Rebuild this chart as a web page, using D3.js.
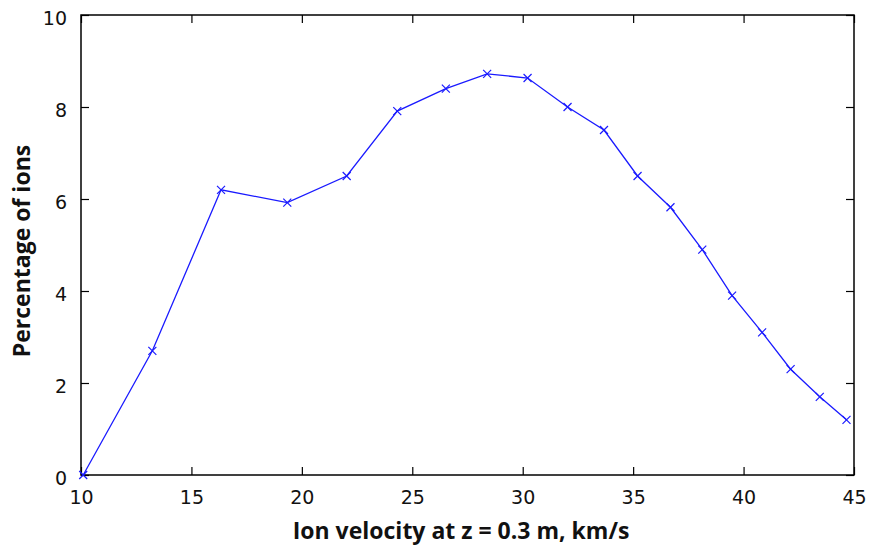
<!DOCTYPE html>
<html>
<head>
<meta charset="utf-8">
<script src="https://cdn.jsdelivr.net/npm/d3@7"></script>
<style>
  html, body { margin: 0; padding: 0; background: #fff; }
  svg { display: block; }
</style>
</head>
<body>
<svg id="chart" width="869" height="546"></svg>
<script>
// Ion velocity distribution at z = 0.3 m
const velocity = [10.1, 13.23, 16.34, 19.34, 22.03, 24.32, 26.52, 28.39, 30.22, 32.03, 33.68, 35.2, 36.69, 38.13, 39.48, 40.84, 42.13, 43.45, 44.66];
const percentIons = [0, 2.7, 6.2, 5.92, 6.5, 7.91, 8.4, 8.72, 8.63, 8.0, 7.5, 6.5, 5.82, 4.9, 3.9, 3.1, 2.3, 1.7, 1.2];
const xTicks = [10, 15, 20, 25, 30, 35, 40, 45];
const yTicks = [0, 2, 4, 6, 8, 10];
const xLabel = "Ion velocity at z = 0.3 m, km/s";
const yLabel = "Percentage of ions";

const svg = d3.select("#chart");
const m = { left: 81, top: 15, right: 854, bottom: 475 };

const x = d3.scaleLinear().domain([10, 45]).range([m.left, m.right]);
const y = d3.scaleLinear().domain([0, 10]).range([m.bottom, m.top]);
const tickLen = 8;
const tickFont = "'DejaVu Sans', Verdana, sans-serif";
const titleFont = "'Open Sans', 'DejaVu Sans', sans-serif";

// Frame
svg.append("rect")
  .attr("x", m.left).attr("y", m.top)
  .attr("width", m.right - m.left).attr("height", m.bottom - m.top)
  .attr("fill", "none").attr("stroke", "#000").attr("stroke-width", 1.5);

// Axes (ticks pointing inward, on all four sides)
const bottomAxis = d3.axisBottom(x).tickValues(xTicks).tickSize(-tickLen).tickPadding(tickLen + 8).tickFormat(d3.format("d"));
const topAxis = d3.axisTop(x).tickValues(xTicks).tickSize(-tickLen).tickFormat("");
const leftAxis = d3.axisLeft(y).tickValues(yTicks).tickSize(-tickLen).tickPadding(tickLen + 6).tickFormat(d3.format("d"));
const rightAxis = d3.axisRight(y).tickValues(yTicks).tickSize(-tickLen).tickFormat("");

function styleAxis(g) {
  g.select(".domain").remove();
  g.selectAll(".tick line").attr("stroke", "#000").attr("stroke-width", 1.2);
  g.selectAll(".tick text")
    .attr("font-family", tickFont)
    .attr("font-size", 19)
    .attr("fill", "#111");
}

svg.append("g").attr("transform", `translate(0,${m.bottom})`).call(bottomAxis).call(styleAxis);
svg.append("g").attr("transform", `translate(0,${m.top})`).call(topAxis).call(styleAxis);
svg.append("g").attr("transform", `translate(${m.left},0)`).call(leftAxis).call(styleAxis)
  .selectAll(".tick text").attr("dy", "0.5em");
svg.append("g").attr("transform", `translate(${m.right},0)`).call(rightAxis).call(styleAxis);

// Data line
const pts = velocity.map((v, i) => [v, percentIons[i]]);
svg.append("path")
  .datum(pts)
  .attr("fill", "none")
  .attr("stroke", "#1a1aff")
  .attr("stroke-width", 1.3)
  .attr("d", d3.line().x(d => x(d[0])).y(d => y(d[1])));

// Cross markers
const s = 4;
svg.append("g").selectAll("path.mk")
  .data(pts)
  .join("path")
  .attr("class", "mk")
  .attr("fill", "none")
  .attr("stroke", "#1a1aff")
  .attr("stroke-width", 1.2)
  .attr("d", d => {
    const cx = x(d[0]), cy = y(d[1]);
    return `M${cx - s},${cy - s}L${cx + s},${cy + s}M${cx - s},${cy + s}L${cx + s},${cy - s}`;
  });

// Axis titles
svg.append("text")
  .attr("x", 461)
  .attr("y", 539)
  .attr("text-anchor", "middle")
  .attr("font-family", titleFont)
  .attr("font-weight", "bold")
  .attr("font-size", 23)
  .attr("fill", "#111")
  .text(xLabel);

svg.append("text")
  .attr("transform", "translate(30,251) rotate(-90)")
  .attr("text-anchor", "middle")
  .attr("font-family", titleFont)
  .attr("font-weight", "bold")
  .attr("font-size", 23)
  .attr("fill", "#111")
  .text(yLabel);
</script>
</body>
</html>
